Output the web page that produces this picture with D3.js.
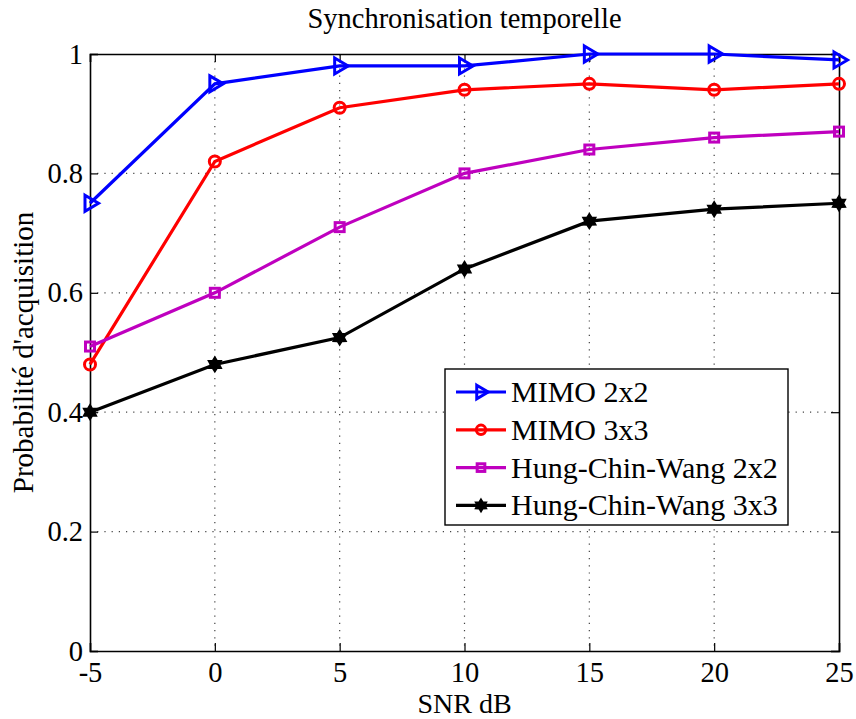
<!DOCTYPE html>
<html>
<head>
<meta charset="utf-8">
<script src="https://cdn.jsdelivr.net/npm/d3@7"></script>
<style>
  body { margin: 0; background: #fff; }
  svg { font-family: "Liberation Serif", "DejaVu Serif", serif; }
</style>
</head>
<body>
<div id="chart"></div>
<script>
// data
const snr = [-5, 0, 5, 10, 15, 20, 25];
const mimo2 = [0.75, 0.95, 0.98, 0.98, 1.0, 1.0, 0.99];
const mimo3 = [0.48, 0.82, 0.91, 0.94, 0.95, 0.94, 0.95];
const hcw2 = [0.51, 0.60, 0.71, 0.80, 0.84, 0.86, 0.87];
const hcw3 = [0.40, 0.48, 0.525, 0.64, 0.72, 0.74, 0.75];
const xTicks = [-5, 0, 5, 10, 15, 20, 25];
const yTicks = [0, 0.2, 0.4, 0.6, 0.8, 1];

const series = [
  { name: "MIMO 2x2", values: mimo2, color: "#0000ff", marker: "tri" },
  { name: "MIMO 3x3", values: mimo3, color: "#ff0000", marker: "circle" },
  { name: "Hung-Chin-Wang 2x2", values: hcw2, color: "#bf00bf", marker: "square" },
  { name: "Hung-Chin-Wang 3x3", values: hcw3, color: "#000000", marker: "star" }
];

const W = 856, H = 719;
const m = { left: 90, right: 17, top: 54, bottom: 68 };
const iw = W - m.left - m.right, ih = H - m.top - m.bottom;

const svg = d3.select("#chart").append("svg")
  .attr("width", W).attr("height", H);

const x = d3.scaleLinear().domain([-5, 25]).range([0, iw]);
const y = d3.scaleLinear().domain([0, 1]).range([ih, 0]);

const g = svg.append("g").attr("transform", `translate(${m.left},${m.top})`);

// grid
g.append("g").selectAll("line").data(xTicks.slice(1, -1)).join("line")
  .attr("x1", d => x(d)).attr("x2", d => x(d))
  .attr("y1", 0).attr("y2", ih)
  .attr("stroke", "#444").attr("stroke-width", 1.2)
  .attr("stroke-dasharray", "1.2,6");
g.append("g").selectAll("line").data(yTicks.slice(1, -1)).join("line")
  .attr("y1", d => y(d)).attr("y2", d => y(d))
  .attr("x1", 0).attr("x2", iw)
  .attr("stroke", "#444").attr("stroke-width", 1.2)
  .attr("stroke-dasharray", "1.2,6");

// axes (ticks inward)
const fs = "28.5px";
g.append("g").attr("transform", `translate(0,${ih})`)
  .call(d3.axisBottom(x).tickValues(xTicks).tickSize(-8).tickPadding(11).tickFormat(d => String(d)));
g.append("g")
  .call(d3.axisLeft(y).tickValues(yTicks).tickSize(-8).tickPadding(7).tickFormat(d => d === 0 || d === 1 ? String(d) : d3.format(".1f")(d)));
g.append("g").call(d3.axisTop(x).tickValues(xTicks).tickSize(-8).tickFormat(""));
g.append("g").attr("transform", `translate(${iw},0)`)
  .call(d3.axisRight(y).tickValues(yTicks).tickSize(-8).tickFormat(""));
g.selectAll(".domain").attr("stroke", "#000").attr("stroke-width", 1.6);
g.selectAll(".tick line").attr("stroke", "#000").attr("stroke-width", 1.2);
g.selectAll(".tick text").attr("font-size", fs).attr("fill", "#000")
  .attr("font-family", "Liberation Serif, serif");

// lines
const line = d3.line().x((d, i) => x(snr[i])).y(d => y(d));

function hexagram(ro, ri) {
  const pts = [];
  for (let k = 0; k < 12; k++) {
    const a = -Math.PI / 2 + k * Math.PI / 6;
    const r = k % 2 === 0 ? ro : ri;
    pts.push([r * Math.cos(a), r * Math.sin(a)]);
  }
  return "M" + pts.map(p => p.join(",")).join("L") + "Z";
}

function drawMarker(sel, type, color, size) {
  if (type === "tri") {
    const s = size;
    sel.append("path").attr("d", `M${-s * 0.5},${-s * 0.8}L${s * 0.85},0L${-s * 0.5},${s * 0.8}Z`)
      .attr("fill", "none").attr("stroke", color).attr("stroke-width", 3);
  } else if (type === "circle") {
    sel.append("circle").attr("r", size * 0.5)
      .attr("fill", "none").attr("stroke", color).attr("stroke-width", 3);
  } else if (type === "square") {
    sel.append("rect").attr("x", -size * 0.5).attr("y", -size * 0.5)
      .attr("width", size).attr("height", size)
      .attr("fill", "none").attr("stroke", color).attr("stroke-width", 3);
  } else if (type === "star") {
    sel.append("path").attr("d", hexagram(size * 0.5, size * 0.3))
      .attr("fill", color).attr("stroke", color).attr("stroke-width", 1.5);
  }
}

const msize = { tri: 10, circle: 11, square: 9, star: 15 };

series.forEach(s => {
  g.append("path").datum(s.values)
    .attr("d", line).attr("fill", "none")
    .attr("stroke", s.color).attr("stroke-width", 3.2);
  s.values.forEach((v, i) => {
    const mg = g.append("g").attr("transform", `translate(${x(snr[i])},${y(v)})`);
    drawMarker(mg, s.marker, s.color, msize[s.marker]);
  });
});

// legend
const lg = svg.append("g").attr("transform", "translate(445,369)");
lg.append("rect").attr("width", 343).attr("height", 156)
  .attr("fill", "#fff").attr("stroke", "#000").attr("stroke-width", 1.4);
series.forEach((s, i) => {
  const yy = 23 + i * 37.8;
  const row = lg.append("g").attr("transform", `translate(0,${yy})`);
  row.append("line").attr("x1", 11).attr("x2", 61).attr("y1", 0).attr("y2", 0)
    .attr("stroke", s.color).attr("stroke-width", 3.2);
  const mg = row.append("g").attr("transform", "translate(36,0)");
  drawMarker(mg, s.marker, s.color, msize[s.marker] * 0.85);
  row.append("text").attr("x", 66).attr("y", 0).attr("dy", "0.33em")
    .attr("font-size", "30px").text(s.name);
});

// title & labels
svg.append("text").attr("x", m.left + iw / 2).attr("y", 28)
  .attr("text-anchor", "middle").attr("font-size", "28.5px").text("Synchronisation temporelle");
svg.append("text").attr("x", m.left + iw / 2).attr("y", 713)
  .attr("text-anchor", "middle").attr("font-size", "28px").text("SNR dB");
svg.append("text").attr("transform", `translate(33,${m.top + ih / 2}) rotate(-90)`)
  .attr("text-anchor", "middle").attr("font-size", "29px").text("Probabilité d'acquisition");
</script>
</body>
</html>
